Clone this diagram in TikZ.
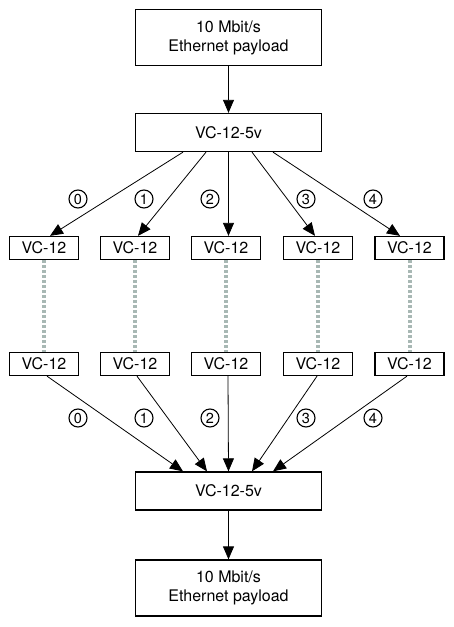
\documentclass[tikz,border=0pt]{standalone}
\usepackage{fontspec}
\setmainfont{TeX Gyre Heros}
\usetikzlibrary{arrows.meta,calc}
\definecolor{pathgray}{RGB}{168,184,180}
\tikzset{
  payload/.style={draw,line width=1.3pt,minimum width=186pt,minimum height=56pt,align=center,inner sep=0pt},
  vcat/.style={draw,line width=1.3pt,minimum width=186pt,minimum height=38pt,inner sep=0pt},
  vc/.style={draw,line width=1.3pt,minimum width=69pt,minimum height=23pt,inner sep=0pt},
  seq/.style={draw,circle,line width=1.1pt,minimum size=18pt,inner sep=0pt,font=\fontsize{14.5}{14.5}\selectfont},
  vcpath/.style={line width=4pt,draw=pathgray,dash pattern=on 3pt off 2pt}
}
\begin{document}
\begin{tikzpicture}[x=1pt,y=-1pt,>={Triangle[length=13pt,width=11pt]},line width=.8pt,font=\fontsize{16}{19}\selectfont]
\useasboundingbox (0,0) rectangle (453,627);

% source side
\node[payload] (src) at (228.5,37.5) {10 Mbit/s\\Ethernet payload};
\node[vcat] (vsrc) at (228.5,132.5) {VC-12-5v};
\draw[->] (src.south) -- (vsrc.north);

\node[vc] (a0) at (44,248) {VC-12};
\node[vc] (a1) at (135,248) {VC-12};
\node[vc] (a2) at (226,248) {VC-12};
\node[vc] (a3) at (318,248) {VC-12};
\node[vc] (a4) at (409.5,248) {VC-12};

\draw[->] ($(vsrc.south)+(-45.5,0)$) -- ($(a0.north)+(6,0)$);
\draw[->] ($(vsrc.south)+(-22.5,0)$) -- ($(a1.north)+(3,0)$);
\draw[->] (vsrc.south) -- ($(a2.north)+(2.5,0)$);
\draw[->] ($(vsrc.south)+(23.5,0)$) -- ($(a3.north)+(-3,0)$);
\draw[->] ($(vsrc.south)+(44.5,0)$) -- ($(a4.north)+(-9.5,0)$);

\node[seq] (s0) at (78,199) {0};
\node[seq] (s1) at (144,199) {1};
\node[seq] (s2) at (210,199) {2};
\node[seq] (s3) at (306,199) {3};
\node[seq] (s4) at (373,199) {4};

% sink side
\node[vc] (b0) at (44,364) {VC-12};
\node[vc] (b1) at (135,364) {VC-12};
\node[vc] (b2) at (226,364) {VC-12};
\node[vc] (b3) at (318,364) {VC-12};
\node[vc] (b4) at (409.5,364) {VC-12};

\draw[vcpath] (a0.south) -- (b0.north);
\draw[vcpath] (a1.south) -- (b1.north);
\draw[vcpath] (a2.south) -- (b2.north);
\draw[vcpath] (a3.south) -- (b3.north);
\draw[vcpath] (a4.south) -- (b4.north);

\node[vcat] (vdst) at (228.5,491) {VC-12-5v};
\node[payload] (dst) at (228.5,588) {10 Mbit/s\\Ethernet payload};

\draw[->] ($(b0.south)+(3,0)$) -- ($(vdst.north)+(-45.5,0)$);
\draw[->] ($(b1.south)+(2,0)$) -- ($(vdst.north)+(-21.5,0)$);
\draw[->] ($(b2.south)+(2,0)$) -- (vdst.north);
\draw[->] ($(b3.south)+(-1,0)$) -- ($(vdst.north)+(23.5,0)$);
\draw[->] ($(b4.south)+(-2.5,0)$) -- ($(vdst.north)+(44.5,0)$);
\draw[->] (vdst.south) -- (dst.north);

\node[seq] (t0) at (78,418) {0};
\node[seq] (t1) at (144,418) {1};
\node[seq] (t2) at (210,418) {2};
\node[seq] (t3) at (306,418) {3};
\node[seq] (t4) at (373,418) {4};

\end{tikzpicture}
\end{document}
